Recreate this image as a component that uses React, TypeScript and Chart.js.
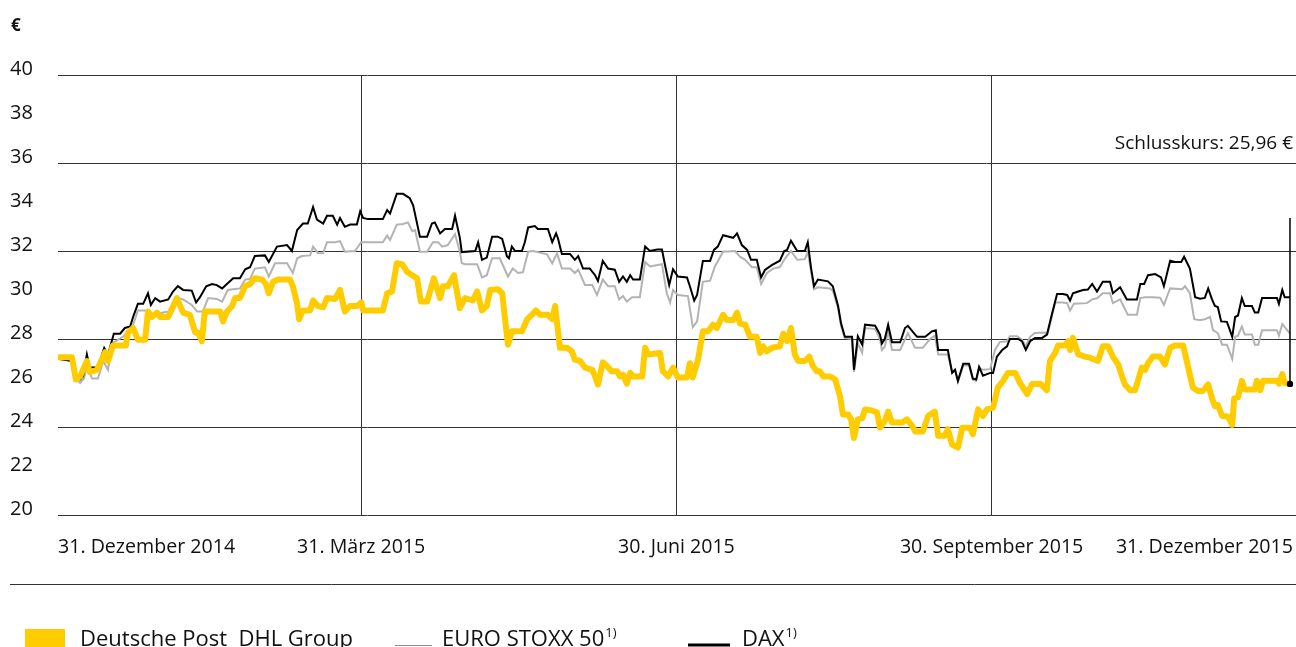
import React, { useEffect, useRef } from "react";
import { Chart, registerables } from "chart.js";

Chart.register(...registerables);

// ---- data (x = trading day since 31 Dec 2014, y = value in €) ----
const quarterDays = [0, 63, 128.5, 194, 256];
const quarterLabels = [
  "31. Dezember 2014",
  "31. März 2015",
  "30. Juni 2015",
  "30. September 2015",
  "31. Dezember 2015",
];
const yTickValues = [20, 22, 24, 26, 28, 30, 32, 34, 36, 38, 40];
const closingPrice = 25.96;
const closingLabel = "Schlusskurs: 25,96 €";
const seriesNames = ["Deutsche Post  DHL Group", "EURO STOXX 50", "DAX"];

const deutschePost: [number, number][] = [
  [0,27.17],[2.9,27.17],[3.7,26.16],[4.6,26.3],[6.0,27.0],[6.6,26.5],[8.1,26.6],[9.1,27.06],[9.8,27.4],[10.4,27.0],
  [11.4,27.7],[14.1,27.7],[14.5,28.27],[15.6,28.5],[16.6,27.97],[18.1,27.97],[18.7,29.25],[19.5,29.0],[20.6,29.2],[21.2,29.0],
  [22.9,29.0],[24.7,29.86],[26.0,29.2],[27.4,29.1],[28.5,28.3],[29.1,28.3],[29.9,27.9],[30.5,29.25],[33.7,29.25],[34.3,28.8],
  [35.1,29.25],[36.2,29.5],[36.8,29.86],[37.8,29.86],[38.9,30.4],[39.9,30.5],[40.9,30.76],[42.4,30.7],[43.2,30.5],[43.8,30.08],
  [44.7,30.6],[45.7,30.7],[48.2,30.7],[48.8,30.4],[49.7,29.6],[50.1,28.9],[50.9,29.3],[52.4,29.3],[53.0,29.75],[54.0,29.5],
  [55.1,29.45],[55.9,29.86],[57.6,29.82],[58.6,30.23],[59.6,29.25],[60.7,29.5],[62.1,29.5],[63.0,29.66],[63.4,29.3],[67.5,29.3],
  [68.4,30.08],[69.4,30.16],[70.4,31.44],[71.5,31.4],[72.5,31.06],[73.6,30.9],[74.6,30.76],[75.4,29.7],[76.7,29.7],[78.1,30.76],
  [79.4,29.86],[80.0,30.4],[81.0,30.4],[82.3,30.9],[83.5,29.4],[84.6,29.86],[86.2,29.75],[87.1,30.16],[88.1,29.3],[89.1,29.5],
  [89.8,30.23],[91.4,30.26],[92.3,30.08],[92.9,28.9],[93.5,27.74],[94.3,28.35],[96.4,28.35],[97.5,28.9],[98.5,29.1],[99.3,29.3],
  [100.2,29.1],[101.8,29.1],[102.7,28.9],[103.3,29.5],[104.3,27.6],[105.8,27.6],[106.8,27.44],[107.4,27.06],[108.5,27.0],[109.5,26.7],
  [111.0,26.6],[111.6,26.3],[112.2,25.93],[113.2,26.94],[114.1,26.76],[115.1,26.53],[116.2,26.53],[116.8,26.3],[117.4,26.38],[118.2,25.97],
  [118.9,26.46],[119.5,26.3],[121.4,26.3],[122.0,27.6],[122.6,27.3],[125.1,27.37],[125.7,26.53],[126.8,26.3],[127.8,26.7],[128.8,26.25],
  [130.7,26.25],[131.3,26.9],[131.9,26.25],[133.0,27.06],[134.0,28.35],[135.1,28.35],[136.1,28.65],[136.9,28.5],[138.2,29.1],[139.0,28.86],
  [140.3,28.86],[141.1,29.2],[141.7,28.7],[142.8,28.65],[143.8,28.1],[145.2,28.1],[145.9,27.37],[146.5,27.67],[147.3,27.44],[148.4,27.6],
  [150.0,27.67],[150.7,28.24],[151.5,27.9],[152.3,28.5],[153.1,27.3],[153.8,27.0],[155.2,27.0],[156.1,27.2],[156.9,26.76],[157.7,26.53],
  [158.3,26.53],[159.0,26.3],[160.4,26.3],[161.5,26.16],[162.5,25.4],[163.1,24.57],[164.2,24.57],[164.8,24.35],[165.4,23.5],[166.2,24.35],
  [167.1,24.4],[167.7,24.8],[169.1,24.75],[170.2,24.66],[170.8,23.97],[171.8,24.27],[172.5,24.7],[173.3,24.2],[175.4,24.2],[176.4,24.35],
  [177.5,24.05],[178.1,23.8],[179.7,23.8],[180.8,24.5],[182.2,24.7],[182.9,23.6],[184.3,23.6],[184.9,23.9],[185.8,23.2],[187.0,23.06],
  [187.9,23.97],[189.5,23.97],[190.1,23.67],[191.2,24.8],[192.2,24.5],[193.0,24.8],[194.3,24.88],[195.3,25.8],[196.4,26.1],[197.4,26.46],
  [198.9,26.46],[199.9,26.0],[201.4,25.5],[202.4,25.95],[204.1,25.97],[205.5,25.67],[206.1,26.99],[207.2,27.37],[207.8,27.7],[209.2,27.7],
  [209.9,27.9],[210.3,27.5],[210.9,28.05],[212.0,27.3],[213.4,27.2],[214.4,27.15],[216.1,27.0],[217.1,27.67],[218.2,27.67],[219.2,27.2],
  [220.3,26.84],[221.1,26.3],[221.7,25.93],[222.8,25.67],[223.8,25.67],[224.4,26.1],[225.2,26.7],[225.9,26.6],[226.5,26.9],[227.5,27.2],
  [229.0,27.2],[230.0,26.84],[231.1,27.6],[232.1,27.7],[233.8,27.7],[234.8,26.76],[235.8,25.8],[236.9,25.64],[237.9,25.64],[239.0,25.93],
  [239.8,25.3],[240.4,24.95],[241.0,25.0],[241.9,24.5],[243.1,24.48],[244.0,24.1],[244.4,25.3],[245.2,25.35],[246.0,26.1],[246.6,25.7],
  [248.7,25.7],[249.1,26.1],[249.8,25.67],[250.4,26.1],[253.3,26.1],[253.7,25.97],[254.4,26.4],[254.9,26.0],[256.0,25.96],
];

const dax: [number, number][] = [
  [0,27.1],[2.9,27.0],[3.7,26.3],[4.6,26.16],[5.2,26.3],[6.0,27.3],[6.6,26.7],[8.1,26.7],[8.7,27.0],[9.6,27.6],
  [10.4,27.3],[11.6,28.24],[12.9,28.24],[13.9,28.5],[15.0,28.57],[15.6,29.0],[16.6,29.6],[17.7,29.6],[18.7,30.08],[19.3,29.55],
  [20.2,29.86],[21.2,29.7],[22.9,29.8],[23.9,30.16],[24.9,30.4],[26.0,30.23],[27.8,30.2],[28.7,29.66],[29.5,29.9],[30.8,30.4],
  [32.0,30.5],[33.0,30.45],[34.1,30.3],[35.1,30.5],[36.4,30.76],[37.8,30.76],[38.9,31.17],[39.9,31.26],[40.9,31.77],[43.0,31.8],
  [43.8,31.5],[45.5,32.2],[47.6,32.27],[48.6,32.0],[49.7,32.95],[50.9,33.25],[51.9,33.25],[53.0,34.0],[53.8,33.43],[55.1,33.25],
  [55.9,33.6],[57.1,33.6],[58.0,33.2],[58.6,33.5],[59.6,33.1],[60.7,33.2],[62.1,33.2],[62.8,33.8],[63.4,33.5],[64.4,33.45],
  [67.5,33.45],[68.4,33.86],[69.0,33.7],[70.4,34.6],[71.7,34.6],[73.1,34.4],[73.8,34.08],[75.2,32.65],[76.7,32.65],[77.7,33.25],
  [78.3,33.3],[79.4,32.8],[80.4,33.0],[81.9,33.0],[82.5,33.6],[83.5,32.6],[83.9,31.95],[86.7,32.0],[87.3,32.4],[88.1,31.6],
  [89.1,31.7],[90.2,32.65],[91.4,32.65],[92.3,32.55],[93.3,31.75],[93.7,31.67],[94.3,32.2],[95.0,32.0],[96.4,32.0],[97.0,32.4],
  [97.7,33.07],[99.1,33.13],[99.7,33.0],[101.8,33.0],[102.7,32.4],[103.5,32.8],[103.9,32.57],[104.7,31.86],[106.4,31.86],[107.4,31.6],
  [108.1,31.77],[109.1,31.2],[110.5,31.2],[111.6,30.9],[112.2,30.64],[113.2,31.55],[114.3,31.2],[115.7,31.15],[116.6,30.6],[117.4,30.84],
  [118.2,30.6],[118.9,30.9],[119.5,30.7],[120.9,30.7],[122.0,32.2],[123.0,32.0],[124.5,32.07],[125.5,32.07],[126.1,31.4],[127.0,30.46],
  [127.8,31.17],[128.8,30.84],[130.7,30.8],[131.3,30.4],[132.2,29.75],[132.8,30.0],[134.0,31.55],[135.5,31.55],[136.3,32.05],[137.1,32.2],
  [138.2,32.72],[140.3,32.6],[141.1,32.8],[142.1,32.27],[143.2,32.05],[144.0,31.6],[145.2,31.6],[146.1,30.8],[146.9,31.14],[148.4,31.37],
  [150.0,31.56],[150.9,32.0],[151.5,32.05],[152.3,32.47],[153.6,32.0],[155.2,32.0],[155.8,32.4],[156.5,31.2],[157.1,30.4],[157.9,30.7],
  [160.0,30.62],[161.0,30.4],[162.1,29.5],[162.7,28.73],[163.5,28.1],[165.0,28.1],[165.4,26.6],[166.2,28.12],[167.1,27.75],[167.7,28.65],
  [169.8,28.6],[170.8,28.2],[171.2,27.8],[171.8,28.0],[172.5,28.65],[173.3,27.85],[175.0,27.85],[176.0,28.5],[176.6,28.6],[178.5,28.1],
  [180.2,28.1],[181.6,28.35],[182.4,28.4],[182.9,27.5],[184.9,27.5],[185.8,26.46],[186.4,26.6],[187.0,26.1],[188.1,26.87],[189.3,26.87],
  [190.1,26.2],[190.8,26.16],[191.4,26.73],[192.2,26.33],[193.7,26.46],[194.3,26.46],[195.1,27.2],[196.2,27.5],[197.2,27.67],[197.8,28.0],
  [199.5,28.0],[200.3,27.9],[201.1,27.5],[202.0,27.9],[203.0,28.05],[204.5,28.05],[205.5,28.2],[206.5,29.1],[207.6,30.04],[208.8,30.04],
  [209.7,30.0],[210.3,29.75],[210.9,30.08],[212.0,30.16],[213.0,30.23],[214.0,30.25],[214.9,30.5],[215.9,30.16],[217.1,30.6],[218.6,30.6],
  [219.2,30.08],[220.7,30.35],[222.1,29.8],[224.2,29.8],[224.9,30.5],[225.7,30.5],[226.5,30.9],[228.0,30.95],[229.2,30.8],[229.8,30.4],
  [231.1,31.56],[232.1,31.5],[233.4,31.5],[234.0,31.74],[235.2,31.2],[236.3,29.9],[237.3,29.83],[238.3,29.87],[239.0,30.3],[239.8,29.8],
  [240.4,29.5],[241.0,29.45],[241.7,28.8],[242.9,28.78],[244.0,28.1],[244.6,29.0],[245.2,29.07],[246.0,29.86],[246.6,29.5],[248.1,29.5],
  [248.7,29.2],[249.4,29.2],[250.2,29.86],[253.3,29.86],[253.7,29.6],[254.4,30.23],[254.9,29.9],[256.0,29.9],
];

const euroStoxx: [number, number][] = [
  [0,27.1],[2.9,27.0],[3.7,26.2],[4.6,26.0],[5.4,26.2],[6.0,26.76],[7.1,26.2],[8.3,26.2],[9.4,27.0],[10.4,26.6],
  [11.2,27.8],[13.5,28.1],[15.4,28.5],[16.6,29.3],[18.1,29.3],[19.1,29.1],[20.6,29.15],[22.9,29.25],[24.7,29.86],[26.0,29.8],
  [27.8,29.55],[28.9,29.25],[30.1,29.25],[31.2,29.86],[33.0,29.82],[34.1,29.7],[35.3,30.23],[37.8,30.3],[38.9,30.7],[39.9,30.73],
  [40.9,31.2],[43.0,31.26],[43.8,30.84],[45.1,31.44],[47.6,31.44],[48.8,31.0],[49.7,31.67],[50.7,31.77],[52.4,31.8],[53.0,32.2],
  [54.0,31.9],[55.1,31.9],[55.9,32.4],[57.6,32.4],[58.6,32.45],[59.6,31.97],[61.7,32.0],[63.0,32.4],[67.5,32.4],[68.4,32.7],
  [69.0,32.5],[70.4,33.2],[71.7,33.23],[72.7,33.3],[73.6,32.9],[74.2,32.95],[75.2,31.97],[76.7,31.97],[77.9,32.4],[79.0,32.4],
  [79.8,32.2],[81.0,32.27],[82.5,32.77],[83.5,31.97],[83.9,31.44],[84.6,31.4],[87.1,31.4],[88.1,30.8],[89.1,30.9],[90.2,31.67],
  [91.8,31.67],[93.5,30.84],[94.5,31.2],[95.6,31.0],[96.6,31.03],[97.7,31.97],[98.7,32.0],[101.6,31.85],[102.7,31.44],[103.7,31.9],
  [104.7,31.2],[106.4,31.2],[107.4,31.0],[108.1,31.15],[109.5,30.46],[111.0,30.46],[112.0,30.0],[113.2,30.7],[114.3,30.4],[115.7,30.4],
  [116.6,29.8],[117.4,29.95],[118.2,29.7],[119.3,29.9],[120.9,29.9],[122.0,31.5],[123.0,31.3],[125.5,31.4],[126.5,30.08],[127.2,29.66],
  [127.8,30.23],[128.8,30.0],[130.9,29.95],[131.9,28.54],[132.8,28.8],[134.0,30.6],[135.5,30.65],[136.5,31.3],[138.2,31.97],[140.7,32.0],
  [141.7,31.74],[142.8,31.6],[144.2,31.26],[145.2,31.26],[146.1,30.5],[147.3,31.0],[148.6,31.2],[150.0,31.27],[151.1,31.67],[152.3,32.0],
  [153.6,31.6],[155.2,31.63],[155.8,31.97],[157.1,30.26],[157.9,30.35],[160.4,30.3],[161.0,30.2],[162.1,29.4],[162.7,28.6],[163.5,28.05],
  [165.0,28.0],[165.4,26.5],[166.2,27.8],[167.1,27.37],[167.7,28.5],[169.8,28.45],[170.8,28.0],[171.2,27.5],[171.8,27.65],[172.5,28.35],
  [173.3,27.5],[175.0,27.5],[176.6,28.27],[178.1,27.6],[179.7,27.6],[181.2,28.0],[182.2,28.15],[182.9,27.3],[184.9,27.3],[185.8,26.5],
  [186.4,26.6],[187.0,26.05],[188.1,26.8],[189.3,26.8],[190.1,26.15],[190.8,26.1],[191.4,26.7],[192.2,26.6],[193.7,26.63],[194.7,27.5],
  [195.7,27.86],[197.2,27.9],[197.8,28.12],[199.3,28.12],[200.3,27.97],[201.1,27.67],[202.0,28.1],[203.0,28.27],[204.7,28.3],[205.7,28.27],
  [207.2,29.66],[208.8,29.66],[209.7,29.63],[210.3,29.3],[211.1,29.6],[213.8,29.63],[214.9,29.8],[215.9,29.85],[217.1,30.08],[218.6,30.08],
  [219.2,29.63],[220.7,29.8],[222.3,29.1],[224.2,29.1],[224.9,29.86],[225.9,29.9],[227.5,29.9],[229.0,29.88],[229.8,29.55],[231.1,30.3],
  [233.6,30.26],[234.2,30.4],[235.2,30.08],[236.1,28.9],[237.3,28.85],[238.3,28.9],[239.4,29.0],[240.0,28.4],[241.0,28.27],[241.9,27.74],
  [242.9,27.74],[244.0,27.1],[244.6,28.1],[245.2,28.15],[246.0,28.57],[246.6,28.2],[248.1,28.2],[248.7,27.74],[249.4,27.74],[250.2,28.4],
  [253.3,28.4],[253.7,28.15],[254.4,28.68],[256.0,28.24],
];

// ---- styles ----
const FONT_FAMILY = '"Open Sans", "Noto Sans", sans-serif';
const TEXT_COLOR = "#111111";
const GRID_COLOR = "#333333";
const YELLOW = "#FFCC00";
const GRAY = "#B3B3B3";
const BLACK = "#000000";
const CLOSING_LINE_TOP = 33.5;

const toPoints = (arr: [number, number][]) => arr.map(([x, y]) => ({ x, y }));

const overlayPlugin = {
  id: "overlay",
  afterDatasetsDraw(chart: any) {
    const { ctx, scales } = chart;
    const x = scales.x;
    const y = scales.y;
    ctx.save();
    // closing price marker
    const cx = x.getPixelForValue(quarterDays[quarterDays.length - 1]);
    const cyTop = y.getPixelForValue(CLOSING_LINE_TOP);
    const cyBot = y.getPixelForValue(closingPrice);
    ctx.strokeStyle = BLACK;
    ctx.lineWidth = 1.5;
    ctx.beginPath();
    ctx.moveTo(cx, cyTop);
    ctx.lineTo(cx, cyBot);
    ctx.stroke();
    ctx.fillStyle = BLACK;
    ctx.beginPath();
    ctx.arc(cx, cyBot, 3.2, 0, Math.PI * 2);
    ctx.fill();
    ctx.restore();
  },
  afterDraw(chart: any) {
    const { ctx, scales } = chart;
    const x = scales.x;
    const y = scales.y;
    ctx.save();
    ctx.fillStyle = TEXT_COLOR;
    ctx.textBaseline = "alphabetic";
    ctx.font = `20px ${FONT_FAMILY}`;

    // y tick labels (sitting on the value line)
    ctx.textAlign = "left";
    yTickValues.forEach((v) => {
      ctx.fillText(String(v), 10, y.getPixelForValue(v));
    });

    // x labels
    ctx.font = `19.6px ${FONT_FAMILY}`;
    const last = quarterDays.length - 1;
    quarterDays.forEach((d, i) => {
      const px = x.getPixelForValue(d);
      ctx.textAlign = i === 0 ? "left" : i === last ? "right" : "center";
      ctx.fillText(quarterLabels[i], i === last ? px + 3 : px, 553);
    });

    // unit
    ctx.textAlign = "left";
    ctx.font = `bold 17px ${FONT_FAMILY}`;
    ctx.fillText("€", 11, 31);

    // closing label
    ctx.font = `19px ${FONT_FAMILY}`;
    ctx.textAlign = "right";
    ctx.fillText(closingLabel, 1293, 149);

    // separator rule
    ctx.strokeStyle = GRID_COLOR;
    ctx.lineWidth = 1;
    ctx.beginPath();
    ctx.moveTo(10, 584.5);
    ctx.lineTo(1296, 584.5);
    ctx.stroke();

    // legend
    const base = 646;
    ctx.textAlign = "left";
    ctx.fillStyle = YELLOW;
    ctx.fillRect(25, 629, 40, 18);
    ctx.fillStyle = TEXT_COLOR;
    ctx.font = `22px ${FONT_FAMILY}`;
    ctx.fillText(seriesNames[0], 80, base);

    ctx.strokeStyle = "#8a8a8a";
    ctx.lineWidth = 1;
    ctx.beginPath();
    ctx.moveTo(395, base - 0.5);
    ctx.lineTo(432, base - 0.5);
    ctx.stroke();
    ctx.fillText(seriesNames[1], 442, base);
    let w = ctx.measureText(seriesNames[1]).width;
    ctx.font = `13px ${FONT_FAMILY}`;
    ctx.fillText("1)", 442 + w + 1, base - 9);

    ctx.strokeStyle = BLACK;
    ctx.lineWidth = 3;
    ctx.beginPath();
    ctx.moveTo(688, base - 1);
    ctx.lineTo(730, base - 1);
    ctx.stroke();
    ctx.font = `22px ${FONT_FAMILY}`;
    ctx.fillText(seriesNames[2], 742, base);
    w = ctx.measureText(seriesNames[2]).width;
    ctx.font = `13px ${FONT_FAMILY}`;
    ctx.fillText("1)", 742 + w + 1, base - 9);

    ctx.restore();
  },
};

export default function App() {
  const ref = useRef<HTMLCanvasElement>(null);

  useEffect(() => {
    const canvas = ref.current;
    if (!canvas) return;
    const chart = new Chart(canvas, {
      type: "line",
      data: {
        datasets: [
          {
            label: seriesNames[0],
            data: toPoints(deutschePost),
            borderColor: YELLOW,
            borderWidth: 6,
            pointRadius: 0,
            tension: 0,
            borderJoinStyle: "round",
            borderCapStyle: "round",
          },
          {
            label: seriesNames[2],
            data: toPoints(dax),
            borderColor: BLACK,
            borderWidth: 2,
            pointRadius: 0,
            tension: 0,
          },
          {
            label: seriesNames[1],
            data: toPoints(euroStoxx),
            borderColor: GRAY,
            borderWidth: 2,
            pointRadius: 0,
            tension: 0,
          },
        ],
      },
      options: {
        animation: false,
        responsive: false,
        devicePixelRatio: 1,
        layout: { padding: { left: 58, right: 0, top: 75, bottom: 132 } },
        plugins: { legend: { display: false }, tooltip: { enabled: false } },
        scales: {
          x: {
            type: "linear",
            min: 0,
            max: 257.25,
            afterBuildTicks: (scale: any) => {
              scale.ticks = quarterDays.map((v) => ({ value: v }));
            },
            ticks: { display: false },
            border: { display: false },
            grid: {
              drawTicks: false,
              lineWidth: 1,
              color: (c: any) =>
                c.tick && (c.tick.value === quarterDays[0] || c.tick.value === quarterDays[quarterDays.length - 1])
                  ? "rgba(0,0,0,0)"
                  : GRID_COLOR,
            },
          },
          y: {
            type: "linear",
            min: 20,
            max: 40,
            afterBuildTicks: (scale: any) => {
              scale.ticks = yTickValues.map((v) => ({ value: v }));
            },
            ticks: { display: false },
            border: { display: false },
            grid: {
              drawTicks: false,
              lineWidth: 1,
              color: (c: any) => (c.tick && c.tick.value % 4 === 0 ? GRID_COLOR : "rgba(0,0,0,0)"),
            },
          },
        },
      },
      plugins: [overlayPlugin],
    } as any);
    return () => chart.destroy();
  }, []);

  return (
    <div style={{ position: "fixed", left: 0, top: 0, width: 1296, height: 647, background: "#fff" }}>
      <canvas ref={ref} width={1296} height={647} style={{ display: "block", width: 1296, height: 647 }} />
    </div>
  );
}
